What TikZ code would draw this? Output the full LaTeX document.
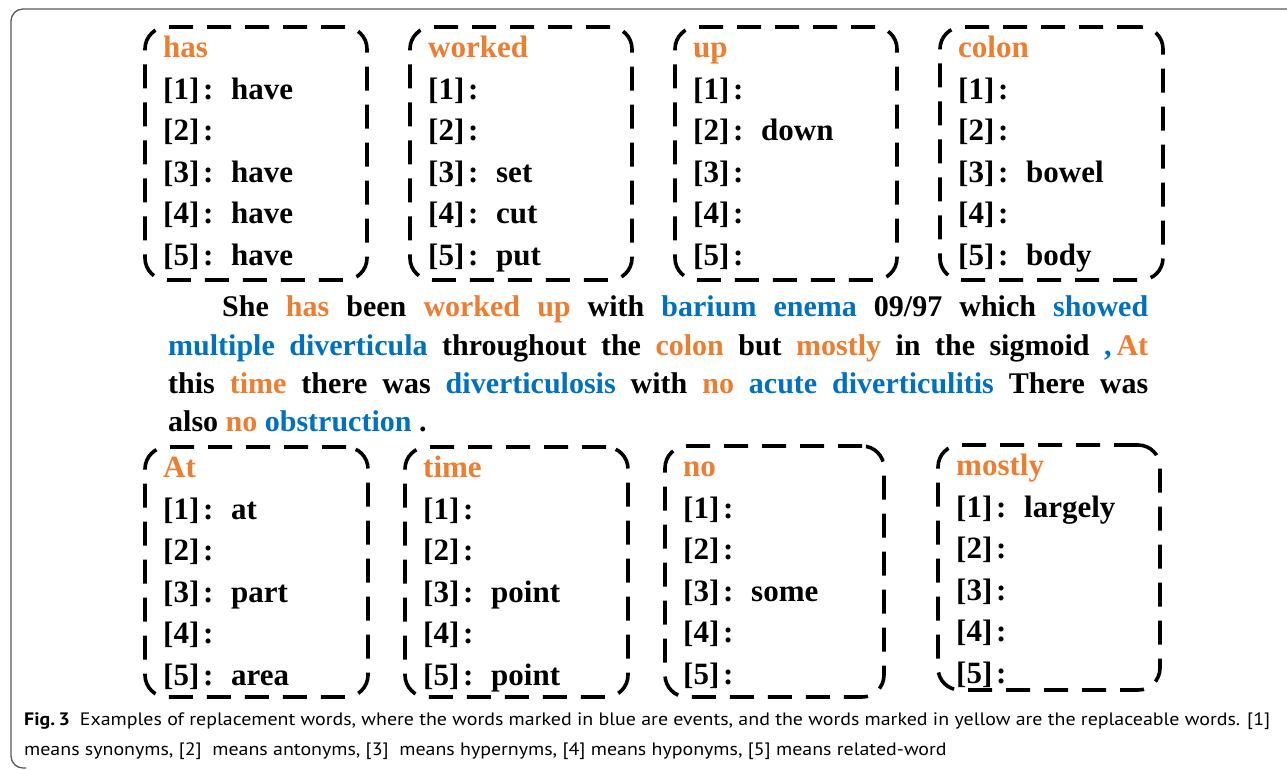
\documentclass[tikz,border=0pt]{standalone}
\usepackage{fontspec}
\usepackage{graphicx}
\usetikzlibrary{calc}
\setmainfont{Liberation Serif}
\newfontfamily\capsans{PT Sans}
\definecolor{orgc}{RGB}{237,125,49}
\definecolor{bluc}{RGB}{0,112,192}
\definecolor{framec}{RGB}{90,90,90}
\newcommand\boxfont{\fontsize{31}{36}\selectfont\bfseries}
\newcommand\sentfont{\fontsize{30}{36}\selectfont\bfseries}
\newcommand\capfont{\fontsize{18}{22}\selectfont\capsans}
\newcommand\og[1]{\textcolor{orgc}{#1}}
\newcommand\bl[1]{\textcolor{bluc}{#1}}
\newcommand\capone{\capfont\textbf{Fig.\,3}\hspace{9pt}Examples of replacement words, where the words marked in blue are events, and the words marked in yellow are the replaceable words. [1]}
\newcommand\captwo{\capfont means synonyms, [2]\ \ means antonyms, [3]\ \ means hypernyms, [4] means hyponyms, [5] means related-word}
\newlength\capw
% title and the five relation rows of one word box
\newcommand\fillbox[3]{%
  \node[wtitle] (#1t) at ($(#1.north west)+(18,30)$) {#2};
  \foreach \i/\w in {#3} {
    \node[wrow] (#1r\i) at ($(#1.north west)+(18,{72+41.5*(\i-1)})$)
      {\makebox[40pt][l]{[\i]}\makebox[28pt][l]{:}\w};
  }%
}
\tikzset{
  wbox/.style={draw, line width=3.6pt, dash pattern=on 24pt off 14pt,
    rounded corners=22pt, inner sep=0pt, outer sep=0pt, anchor=north west},
  wtitle/.style={anchor=base west, inner sep=0pt, text=orgc, font=\boxfont},
  wrow/.style={anchor=base west, inner sep=0pt, font=\boxfont},
  sline/.style={anchor=base west, inner sep=0pt, font=\sentfont},
  capline/.style={anchor=base west, inner sep=0pt},
}
\begin{document}
\settowidth\capw{\capone}%
\pgfmathsetmacro\capsc{1246/\capw}%
\begin{tikzpicture}[x=1pt, y=-1pt]
\useasboundingbox (0,0) rectangle (1287,769);
\fill[white] (0,0) rectangle (1287,769);

% outer figure frame
\draw[framec, line width=1.3pt, rounded corners=12pt]
  (1290,9) -- (11,9) -- (11,768) -- (26,768);

% word boxes, upper row
\node[wbox, minimum width=222pt, minimum height=253pt] (has) at (145,27) {};
\node[wbox, minimum width=222pt, minimum height=253pt] (worked) at (410,27) {};
\node[wbox, minimum width=222pt, minimum height=253pt] (up) at (675,27) {};
\node[wbox, minimum width=223pt, minimum height=253pt] (colon) at (940,27) {};
\fillbox{has}{has}{1/have,2/,3/have,4/have,5/have}
\fillbox{worked}{worked}{1/,2/,3/set,4/cut,5/put}
\fillbox{up}{up}{1/,2/down,3/,4/,5/}
\fillbox{colon}{colon}{1/,2/,3/bowel,4/,5/body}

% word boxes, lower row
\node[wbox, minimum width=223pt, minimum height=250pt] (at) at (145,447) {};
\node[wbox, minimum width=223pt, minimum height=250pt] (time) at (405,447) {};
\node[wbox, minimum width=219pt, minimum height=251pt] (no) at (665,446) {};
\node[wbox, minimum width=222pt, minimum height=245pt] (mostly) at (938,445) {};
\fillbox{at}{At}{1/at,2/,3/part,4/,5/area}
\fillbox{time}{time}{1/,2/,3/point,4/,5/point}
\fillbox{no}{no}{1/,2/,3/some,4/,5/}
\fillbox{mostly}{mostly}{1/largely,2/,3/,4/,5/}

% example sentence
\node[sline] (s1) at (222,316) {\makebox[926pt][s]{She \og{has} been \og{worked} \og{up} with \bl{barium} \bl{enema} 09/97 which \bl{showed}}};
\node[sline] (s2) at (168,355) {\makebox[980pt][s]{\bl{multiple} \bl{diverticula} throughout the \og{colon} but \og{mostly} in the sigmoid \bl{,}\,\og{At}}};
\node[sline] (s3) at (168,393) {\makebox[980pt][s]{this \og{time} there was \bl{diverticulosis} with \og{no} \bl{acute} \bl{diverticulitis} There was}};
\node[sline] (s4) at (168,431) {also \og{no} \bl{obstruction} .};

% caption
\node[capline] (cap1) at (24,725) {\scalebox{\capsc}[1]{\capone}};
\node[capline] (cap2) at (24,755) {\scalebox{\capsc}[1]{\captwo}};
\end{tikzpicture}
\end{document}
